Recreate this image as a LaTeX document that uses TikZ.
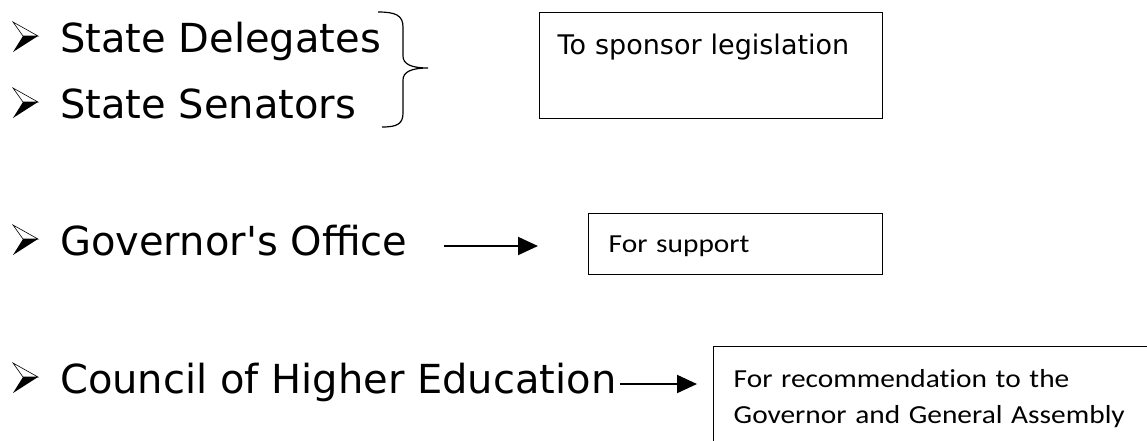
\documentclass[tikz,border=0pt]{standalone}
\usepackage{fontspec}
\setmainfont{DejaVu Sans}
\newfontfamily\notefont[FakeStretch=1.13, Ligatures=CommonOff]{Carlito}
\usetikzlibrary{arrows.meta}
\tikzstyle{item} = [
	anchor=base west,
	inner sep=0pt,
	text height=30pt,
	text depth=12pt,
	font=\fontsize{40}{48}\selectfont
]
\tikzstyle{note} = [
	rectangle,
	anchor=north west,
	align=left,
	inner xsep=20pt,
	inner ysep=0pt,
	draw=black,
	line width=1.4pt
]
\tikzstyle{arrow} = [line width=2pt, -{Triangle[length=20pt,width=18pt]}]

\begin{document}
\begin{tikzpicture}[x=1pt, y=-1pt]
            \useasboundingbox (0,0) rectangle (1147,440);
            \node (delegates) [item] at (60,52) {State Delegates};
            \node (senators) [item] at (60,118) {State Senators};
            \node (governor) [item] at (60,255) {Governor\textquotesingle s Office};
            \node (council) [item] at (60,393) {Council of Higher Education};
            \node (sponsor) [note, inner xsep=18pt, text width=307pt, text height=42pt, text depth=64pt,
              font=\fontsize{27}{32}\selectfont] at (539,12) {To sponsor legislation};
            \node (support) [note, text width=254pt, text height=39pt, text depth=22pt,
              font=\notefont\fontsize{26}{36}\selectfont] at (588,213) {For support};
            \node (recommend) [note, text width=420pt, inner ysep=23pt,
              font=\notefont\fontsize{26}{36}\selectfont] at (713,346) {For recommendation to the\\Governor and General Assembly};
            % bullets
            \foreach \n in {delegates, senators, governor, council} {
              \draw [line width=0.6pt, fill=white] ([shift={(-47,-30)}]\n.base west) -- ([shift={(-22,-16)}]\n.base west) -- ([shift={(-37,-16)}]\n.base west) -- cycle;
              \fill ([shift={(-37,-16)}]\n.base west) -- ([shift={(-22,-16)}]\n.base west) -- ([shift={(-47,0)}]\n.base west) -- cycle;
            }
            % brace
            \draw [line width=1.2pt] (378,12) .. controls (395,12) and (403,15) .. (403,27) -- (403,56)
              .. controls (403,64) and (411,68) .. (428,68) .. controls (411,68) and (403,72) .. (403,80)
              -- (403,113) .. controls (403,124) and (397,127) .. (382,127);
            \draw [arrow, shorten <=37pt, shorten >=50pt] (governor.east) -- (governor.east -| support.west);
            \draw [arrow, shorten <=3pt, shorten >=16pt] (council.east) -- (council.east -| recommend.west);
          \end{tikzpicture}
\end{document}
